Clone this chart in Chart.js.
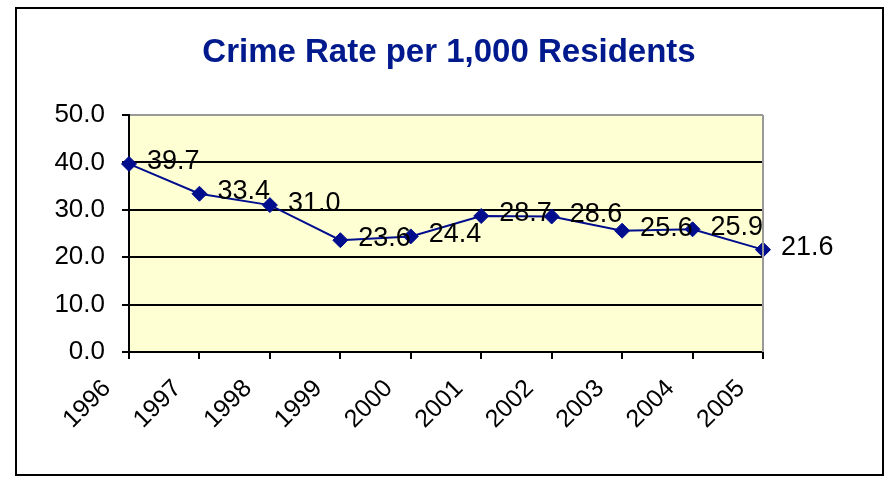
<!DOCTYPE html>
<html>
<head>
<meta charset="utf-8">
<script src="https://cdn.jsdelivr.net/npm/chart.js@4.4.1/dist/chart.umd.min.js"></script>
<style>
  html, body { margin: 0; padding: 0; background: #ffffff; }
  #wrap { position: relative; width: 888px; height: 477px; }
</style>
</head>
<body>
<div id="wrap"><canvas id="chart"></canvas></div>
<script>
// chart data
const years = ['1996', '1997', '1998', '1999', '2000', '2001', '2002', '2003', '2004', '2005'];
const crimeRate = [39.7, 33.4, 31.0, 23.6, 24.4, 28.7, 28.6, 25.6, 25.9, 21.6];
const yTicks = [0, 10, 20, 30, 40, 50];

const FONT = '"Liberation Sans", Arial, sans-serif';
Chart.defaults.font.family = FONT;
Chart.defaults.color = '#000000';

// yellow plot area + grey top/right frame, outer border of the whole chart
const plotFrame = {
    id: 'plotFrame',
    beforeDraw(chart) {
        const { ctx, chartArea: a } = chart;
        ctx.save();
        ctx.fillStyle = '#FFFFD4';
        ctx.fillRect(a.left, a.top, a.right - a.left, a.bottom - a.top);
        ctx.restore();
    },
    afterDraw(chart) {
        const { ctx, chartArea: a } = chart;
        ctx.save();
        ctx.strokeStyle = '#999999';
        ctx.lineWidth = 2;
        ctx.beginPath();
        ctx.moveTo(a.right, a.top);
        ctx.lineTo(a.right, a.bottom);
        ctx.stroke();
        ctx.strokeStyle = '#000000';
        ctx.strokeRect(16, 8, 867, 467);
        ctx.restore();
    }
};

// value labels right of each point
const valueLabels = {
    id: 'valueLabels',
    afterDatasetsDraw(chart) {
        const { ctx } = chart;
        const meta = chart.getDatasetMeta(0);
        ctx.save();
        ctx.font = '27px ' + FONT;
        ctx.fillStyle = '#000000';
        ctx.textAlign = 'left';
        ctx.textBaseline = 'middle';
        meta.data.forEach((pt, i) => {
            ctx.fillText(crimeRate[i].toFixed(1), pt.x + 18, pt.y - 2);
        });
        ctx.restore();
    }
};

new Chart(document.getElementById('chart'), {
    type: 'line',
    data: {
        labels: years,
        datasets: [{
            data: crimeRate,
            borderColor: '#000E8E',
            backgroundColor: '#000E8E',
            borderWidth: 2,
            pointStyle: 'rectRot',
            pointRadius: 7.5,
            pointBorderWidth: 1,
            pointBackgroundColor: '#000E8E',
            pointBorderColor: '#000E8E',
            tension: 0,
            fill: false
        }]
    },
    options: {
        responsive: true,
        maintainAspectRatio: false,
        animation: false,
        layout: { padding: { left: 18, right: 8, top: 0, bottom: 0 } },
        plugins: {
            legend: { display: false },
            tooltip: { enabled: false },
            title: {
                display: true,
                text: 'Crime Rate per 1,000 Residents',
                color: '#001A8E',
                font: { size: 33, weight: 'bold', family: FONT },
                padding: { top: 33.5, bottom: 42 }
            }
        },
        scales: {
            x: {
                offset: false,
                afterFit: (s) => { s.height = 125; },
                border: { display: true, color: '#000000', width: 2 },
                grid: { drawOnChartArea: false, drawTicks: true, tickLength: 7, tickColor: '#000000', lineWidth: 2 },
                ticks: { autoSkip: false, minRotation: 45, maxRotation: 45, padding: 15, labelOffset: -22, font: { size: 25 }, color: '#000000' }
            },
            y: {
                min: 0,
                max: 50,
                afterFit: (s) => { s.width = 111; },
                afterBuildTicks: (s) => { s.ticks = yTicks.map(v => ({ value: v })); },
                border: { display: true, color: '#000000', width: 2 },
                grid: {
                    color: (c) => (c.tick && c.tick.value === 50 ? '#999999' : '#000000'),
                    lineWidth: 2,
                    tickLength: 7,
                    tickColor: '#000000'
                },
                ticks: { padding: 17, font: { size: 26 }, color: '#000000', callback: (v) => Number(v).toFixed(1) }
            },
            // empty right-hand space so the plot ends where the reference does
            yRight: {
                position: 'right',
                min: 0,
                max: 50,
                afterFit: (s) => { s.width = 117; },
                border: { display: false },
                grid: { display: false },
                ticks: { display: false }
            }
        }
    },
    plugins: [plotFrame, valueLabels]
});
</script>
</body>
</html>
